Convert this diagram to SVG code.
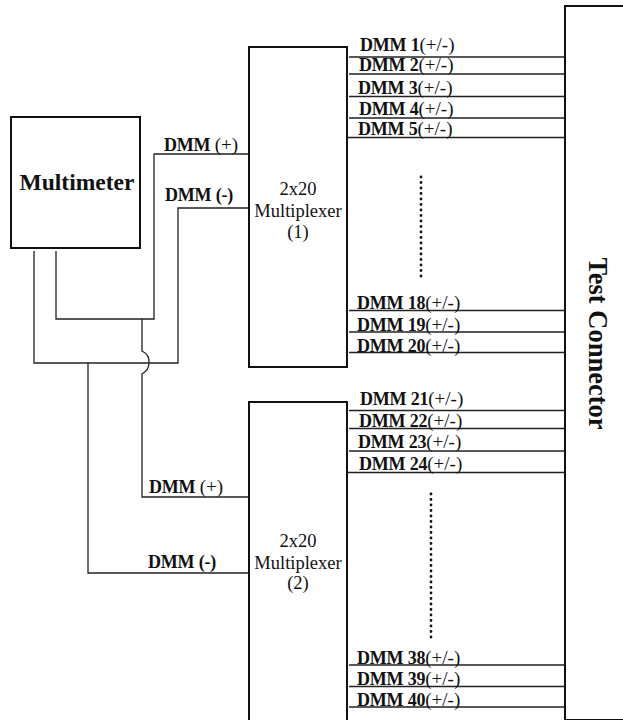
<svg xmlns="http://www.w3.org/2000/svg" width="623" height="720" viewBox="0 0 623 720">
<style>
text{font-family:"Liberation Serif","Times New Roman",serif;fill:#111}
.b{font-weight:bold;font-size:18px;letter-spacing:-.2px}
.p{font-weight:normal;font-size:19px;letter-spacing:0}
.n{font-size:18.500px;text-anchor:middle}
.box{fill:#fff;stroke:#111;stroke-width:2}
.w{fill:none;stroke:#222;stroke-width:1.3}
.t{fill:none;stroke:#222;stroke-width:1.5}
.d{fill:none;stroke:#111;stroke-width:2.8;stroke-linecap:round;stroke-dasharray:0 5.5}
</style>
<g id="connectors">
<path class="w" d="M56 251V319H154V154H249"/>
<path class="w" d="M34 251V363H178V208H249"/>
<path class="w" d="M88 363V573H249"/>
<path class="w" d="M142 319V351Q150 355 149 363Q149 370 142 374V497H249"/>
<g class="t">
<path d="M349 57H565M349 74H565M349 96.500H565M349 118H565M347 137.500H565"/>
<path d="M349 310.500H565M349 332H565M349 352.500H565"/>
<path d="M349 410.500H565M349 428.500H565M349 451H565M347 472.500H565"/>
<path d="M349 665H565M349 686.500H565M349 707H565"/>
</g>
<path class="d" d="M421 177V279"/>
<path class="d" d="M431 494V639"/>
</g>
<g id="multimeter"><rect class="box" x="11" y="117" width="129" height="131"/><text x="77" y="190" text-anchor="middle" style="font-weight:bold;font-size:23.5px">Multimeter</text></g>
<g id="mux1"><rect class="box" x="249" y="47" width="98" height="320"/><text class="n" x="298" y="195">2x20</text><text class="n" x="298" y="217">Multiplexer</text><text class="n" x="298" y="238">(1)</text></g>
<g id="mux2"><rect class="box" x="249" y="402" width="98" height="330"/><text class="n" x="298" y="547">2x20</text><text class="n" x="298" y="569">Multiplexer</text><text class="n" x="298" y="589">(2)</text></g>
<g id="test-connector"><rect class="box" x="565" y="6" width="70" height="714"/><text transform="translate(589 343.500) rotate(90)" text-anchor="middle" style="font-weight:bold;font-size:26.500px">Test Connector</text></g>
<g id="labels">
<text class="b" x="164" y="151">DMM <tspan class="p">(+)</tspan></text>
<text class="b" x="165" y="201">DMM (-)</text>
<text class="b" x="149" y="493">DMM <tspan class="p">(+)</tspan></text>
<text class="b" x="148" y="568">DMM (-)</text>
<text class="b" x="360" y="51">DMM 1<tspan class="p">(+/-)</tspan></text>
<text class="b" x="359" y="71">DMM 2<tspan class="p">(+/-)</tspan></text>
<text class="b" x="358" y="94">DMM 3<tspan class="p">(+/-)</tspan></text>
<text class="b" x="359" y="115">DMM 4<tspan class="p">(+/-)</tspan></text>
<text class="b" x="358" y="135">DMM 5<tspan class="p">(+/-)</tspan></text>
<text class="b" x="357" y="309">DMM 18<tspan class="p">(+/-)</tspan></text>
<text class="b" x="357" y="331">DMM 19<tspan class="p">(+/-)</tspan></text>
<text class="b" x="357" y="352">DMM 20<tspan class="p">(+/-)</tspan></text>
<text class="b" x="360" y="405">DMM 21<tspan class="p">(+/-)</tspan></text>
<text class="b" x="359" y="427">DMM 22<tspan class="p">(+/-)</tspan></text>
<text class="b" x="358" y="448">DMM 23<tspan class="p">(+/-)</tspan></text>
<text class="b" x="359" y="470">DMM 24<tspan class="p">(+/-)</tspan></text>
<text class="b" x="357" y="664">DMM 38<tspan class="p">(+/-)</tspan></text>
<text class="b" x="357" y="685">DMM 39<tspan class="p">(+/-)</tspan></text>
<text class="b" x="357" y="706">DMM 40<tspan class="p">(+/-)</tspan></text>
</g>
</svg>
